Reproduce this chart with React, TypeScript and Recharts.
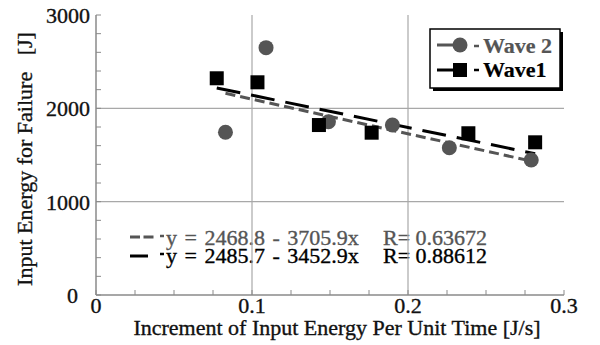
import React from "react";
import {
  ScatterChart,
  Scatter,
  XAxis,
  YAxis,
  ReferenceLine,
  Customized,
} from "recharts";

// Measured points for each loading wave
const wave2X = [0.083, 0.109, 0.149, 0.19, 0.2265, 0.279];
const wave2Y = [1743, 2650, 1857, 1821, 1578, 1446];
const wave1X = [0.0774, 0.1035, 0.1429, 0.1767, 0.2387, 0.2815];
const wave1Y = [2322, 2279, 1821, 1739, 1733, 1636];

// Linear fits y = a + b x
const wave2Fit = { intercept: 2468.8, slope: -3705.9, r: "0.63672" };
const wave1Fit = { intercept: 2485.7, slope: -3452.9, r: "0.88612" };

const seriesNames = ["Wave 2", "Wave1"];

// Axis ticks (minor + major) and labelled majors
const xTicks = [0, 0.025, 0.05, 0.075, 0.1, 0.125, 0.15, 0.175, 0.2, 0.225, 0.25, 0.275, 0.3];
const xMajor = [0, 0.1, 0.2, 0.3];
const xMajorLabels = ["0", "0.1", "0.2", "0.3"];
const yTicks = [0, 200, 400, 600, 800, 1000, 1200, 1400, 1600, 1800, 2000, 2200, 2400, 2600, 2800, 3000];
const yMajor = [0, 1000, 2000, 3000];
const yMajorLabels = ["0", "1000", "2000", "3000"];

const xTitle = "Increment of Input Energy Per Unit Time [J/s]";
const yTitle = "Input Energy for Failure   [J]";

const FONT = "'Liberation Serif', 'Times New Roman', Times, serif";
const GRAY = "#555555";
const FRAME = "#8a8a8a";
const GRID = "#a8a8a8";

// Regular-weight text with a faint outline so the glyphs read a little heavier
const txt = (size: number, color: string, extra: React.CSSProperties = {}): React.CSSProperties => ({
  fontFamily: FONT,
  fontSize: size,
  fill: color,
  stroke: color,
  strokeWidth: 0.35,
  ...extra,
});

const toPoints = (xs: number[], ys: number[]) => xs.map((x, i) => ({ x, y: ys[i] }));

const fitLine = (xs: number[], fit: { intercept: number; slope: number }) => {
  const lo = Math.min(...xs);
  const hi = Math.max(...xs);
  return [
    { x: lo, y: fit.intercept + fit.slope * lo },
    { x: hi, y: fit.intercept + fit.slope * hi },
  ];
};

const fitText = (fit: { intercept: number; slope: number }) =>
  `y = ${fit.intercept.toFixed(1)} - ${Math.abs(fit.slope).toFixed(1)}x`;

const wave2Points = toPoints(wave2X, wave2Y);
const wave1Points = toPoints(wave1X, wave1Y);
const wave2Trend = fitLine(wave2X, wave2Fit);
const wave1Trend = fitLine(wave1X, wave1Fit);

const findMajor = (v: number, majors: number[]) =>
  majors.findIndex((m) => Math.abs(m - v) < 1e-9);

const XTick = (props: any) => {
  const { x, y, payload } = props;
  const i = findMajor(payload.value, xMajor);
  if (i < 0) return <g />;
  return (
    <text x={x} y={y + 18} textAnchor="middle" style={txt(22, "#111")}>
      {xMajorLabels[i]}
    </text>
  );
};

const YTick = (props: any) => {
  const { x, y, payload } = props;
  const i = findMajor(payload.value, yMajor);
  if (i < 0) return <g />;
  const shift = payload.value === 0 ? 12 : 0;
  return (
    <text x={x - 6 - shift} y={y + 8} textAnchor="end" style={txt(22, "#111")}>
      {yMajorLabels[i]}
    </text>
  );
};

const Circle = (p: any) => <circle cx={p.cx} cy={p.cy} r={7.5} fill={GRAY} />;
const Square = (p: any) => (
  <rect x={p.cx - 7} y={p.cy - 7} width={14} height={14} fill="#000" />
);
const NoMark = () => <g />;

const Overlay = () => (
  <g>
    <text x={337} y={335} textAnchor="middle" style={txt(22, "#111")}>
      {xTitle}
    </text>
    <text
      transform="translate(32,159) rotate(-90)"
      textAnchor="middle"
      xmlSpace="preserve"
      style={txt(22, "#111", { whiteSpace: "pre" })}
    >
      {yTitle}
    </text>

    {/* legend */}
    <rect x={433} y={32} width={130} height={59} fill="#000" />
    <rect x={430} y={29} width={130} height={59} fill="#fff" stroke="#000" strokeWidth={1.5} />
    <line x1={437} y1={45} x2={466} y2={45} stroke={GRAY} strokeWidth={3} />
    <circle cx={460} cy={45} r={7.5} fill={GRAY} />
    <line x1={474} y1={46} x2={479} y2={46} stroke={GRAY} strokeWidth={2.5} />
    <text x={483} y={53} style={txt(22, GRAY, { fontWeight: "bold", strokeWidth: 0.2 })}>
      {seriesNames[0]}
    </text>
    <line x1={437} y1={70} x2={455} y2={70} stroke="#000" strokeWidth={3} />
    <rect x={453} y={63} width={14} height={14} fill="#000" />
    <line x1={474} y1={70} x2={479} y2={70} stroke="#000" strokeWidth={2.5} />
    <text x={483} y={77} style={txt(22, "#000", { fontWeight: "bold", strokeWidth: 0.2 })}>
      {seriesNames[1]}
    </text>

    {/* fit equations */}
    <line x1={130} y1={237} x2={154} y2={237} stroke={GRAY} strokeWidth={3} strokeDasharray="10 3.5" />
    <line x1={160} y1={236} x2={164} y2={236} stroke={GRAY} strokeWidth={2.5} />
    <text x={166} y={245} style={txt(22, GRAY, { wordSpacing: 2 })}>
      {fitText(wave2Fit)}
    </text>
    <text x={383} y={245} style={txt(22, GRAY)}>
      {`R= ${wave2Fit.r}`}
    </text>
    <line x1={130} y1={256} x2={148} y2={256} stroke="#000" strokeWidth={3} />
    <line x1={160} y1={254} x2={164} y2={254} stroke="#000" strokeWidth={2.5} />
    <text x={166} y={263} style={txt(22, "#000", { wordSpacing: 2 })}>
      {fitText(wave1Fit)}
    </text>
    <text x={383} y={263} style={txt(22, "#000")}>
      {`R= ${wave1Fit.r}`}
    </text>
  </g>
);

export default function App() {
  return (
    <div style={{ position: "absolute", left: 0, top: 0, background: "#fff" }}>
      <ScatterChart
        width={600}
        height={345}
        margin={{ top: 15, right: 36, bottom: 0, left: 0 }}
      >
        <XAxis
          type="number"
          dataKey="x"
          domain={[0, 0.3]}
          ticks={xTicks}
          interval={0}
          height={50}
          allowDataOverflow
          axisLine={{ stroke: FRAME, strokeWidth: 1.5 }}
          tickLine={{ stroke: FRAME }}
          tickSize={-5}
          tickMargin={5}
          tick={<XTick />}
        />
        <YAxis
          type="number"
          dataKey="y"
          domain={[0, 3000]}
          ticks={yTicks}
          interval={0}
          width={96}
          allowDataOverflow
          axisLine={{ stroke: FRAME, strokeWidth: 1.5 }}
          tickLine={{ stroke: FRAME }}
          tickSize={-5}
          tickMargin={5}
          tick={<YTick />}
        />
        <XAxis
          xAxisId="top"
          orientation="top"
          type="number"
          dataKey="x"
          domain={[0, 0.3]}
          ticks={xTicks}
          interval={0}
          height={0}
          allowDataOverflow
          axisLine={{ stroke: FRAME, strokeWidth: 1.5 }}
          tickLine={{ stroke: FRAME }}
          tickSize={-5}
          tick={false}
        />
        <YAxis
          yAxisId="right"
          orientation="right"
          type="number"
          dataKey="y"
          domain={[0, 3000]}
          ticks={yTicks}
          interval={0}
          width={0}
          allowDataOverflow
          axisLine={{ stroke: FRAME, strokeWidth: 1.5 }}
          tickLine={{ stroke: FRAME }}
          tickSize={-5}
          tick={false}
        />

        {xMajor.slice(1, -1).map((v) => (
          <ReferenceLine key={`vx${v}`} x={v} stroke={GRID} strokeWidth={1.2} />
        ))}
        {yMajor.slice(1, -1).map((v) => (
          <ReferenceLine key={`hy${v}`} y={v} stroke={GRID} strokeWidth={1.2} />
        ))}

        <Scatter
          name="Wave 2 fit"
          data={wave2Trend}
          fill={GRAY}
          line={{ stroke: GRAY, strokeWidth: 3, strokeDasharray: "10 5" }}
          shape={NoMark}
          isAnimationActive={false}
        />
        <Scatter
          name="Wave1 fit"
          data={wave1Trend}
          fill="#000"
          line={{ stroke: "#000", strokeWidth: 3, strokeDasharray: "24 11" }}
          shape={NoMark}
          isAnimationActive={false}
        />
        <Scatter
          name={seriesNames[0]}
          data={wave2Points}
          fill={GRAY}
          shape={Circle}
          isAnimationActive={false}
        />
        <Scatter
          name={seriesNames[1]}
          data={wave1Points}
          fill="#000"
          shape={Square}
          isAnimationActive={false}
        />

        <Customized component={Overlay} />
      </ScatterChart>
    </div>
  );
}
